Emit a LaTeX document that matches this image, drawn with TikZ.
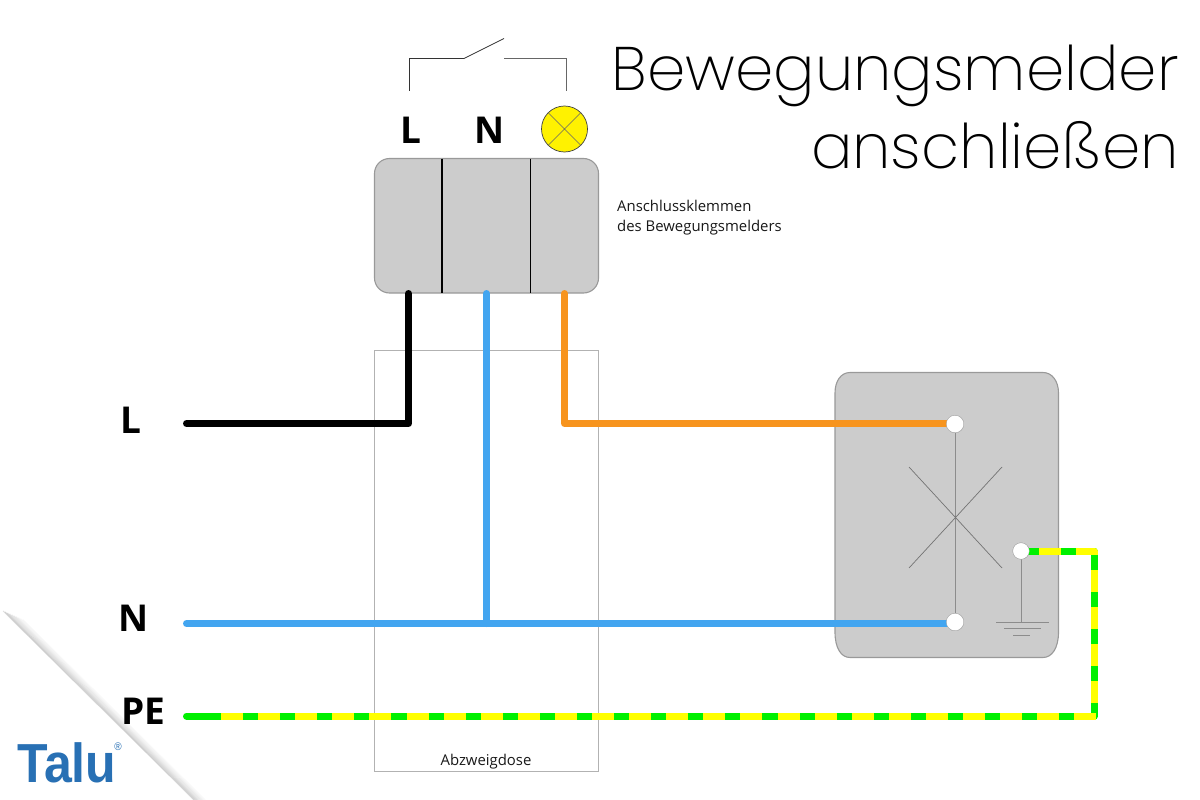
\documentclass[tikz,border=0pt]{standalone}
\usepackage{fontspec}
\setmainfont{Open Sans}
\newfontfamily\titlefont{Poppins ExtraLight}
\newfontfamily\logofont[FakeStretch=0.91]{Liberation Sans}
\definecolor{boxgray}{HTML}{CCCCCC}
\definecolor{boxedge}{HTML}{999999}
\definecolor{wireblue}{HTML}{42A5F0}
\definecolor{wireorange}{HTML}{F7941E}
\definecolor{pegreen}{HTML}{00F000}
\definecolor{peyellow}{HTML}{FFFF00}
\definecolor{talublue}{HTML}{2870B4}
\tikzset{
  wire/.style={line width=7pt,line cap=round,line join=round},
  pedash/.style={line width=7pt,line cap=butt,line join=round,peyellow,dash pattern=on 22pt off 15.1pt},
  thin line/.style={draw=#1,line width=0.8pt},
  thin line/.default=black!70,
  terminal/.style={circle,fill=white,draw=boxedge,line width=0.3pt,minimum size=17.5pt,inner sep=0pt},
  big/.style={font=\fontsize{37}{37}\selectfont\bfseries,inner sep=0pt,text=black},
  small/.style={font=\fontsize{14.9}{20}\selectfont,inner sep=0pt,align=left,text=black!90},
  casing/.style={fill=boxgray,draw=boxedge,line width=1.1pt},
}
\begin{document}
\begin{tikzpicture}[x=1pt,y=-1pt]
\useasboundingbox (0,0) rectangle (1200,800);
\fill[white] (0,0) rectangle (1200,800);
% Fold
\foreach \o/\a in {0/.12,1/.10,2/.09,3/.07,4/.06,5/.05,6/.04,7/.03,8/.02,9/.02}{
  \draw[black,opacity=\a,line width=1.4pt] ({\o*2.2+3},{608-\o*1.25+\o*2.2+3}) -- ({194+\o*1.25},800);
}
\fill[white] (0,609) -- (193,800) -- (0,800) -- cycle;
% Abzweigdose
\node[draw=black!30,line width=0.7pt,minimum width=224pt,minimum height=421pt,inner sep=0pt] (dose) at (486.5,561) {};
\node[small,anchor=south] (dosetext) at (486,769) {Abzweigdose};
% Terminal box
\draw[casing,rounded corners=15pt] (374.5,158.5) rectangle (598.5,293);
\draw[black,line width=1.1pt] (442,158.5) -- (442,293);
\draw[black,line width=1.1pt] (530.5,158.5) -- (530.5,293);
% Labels
\node[big] (topL) at (411,130) {L};
\node[big] (topN) at (490,130) {N};
\node[big] (leftL) at (131,420) {L};
\node[big] (leftN) at (134,618) {N};
\node[big] (leftPE) at (143,711) {PE};
% Switch symbol
\draw[thin line=black!80] (409.5,91) -- (409.5,58.5) -- (464,58.5) -- (504,38.5);
\draw[thin line=black!60] (504,58.5) -- (566,58.5) -- (566,91);
% Lamp
\node[circle,fill=yellow,draw=black!75,line width=0.7pt,minimum size=46pt,inner sep=0pt] (lamp) at (564.5,129) {};
\draw[black!60,line width=0.6pt] (lamp.45) -- (lamp.225) (lamp.135) -- (lamp.315);
% Consumer
\draw[casing] (835,393) .. controls (835,381) and (841,372.5) .. (850,372.5) -- (1043,372.5)
  .. controls (1052,372.5) and (1058.5,381) .. (1058.5,393) -- (1058.5,632)
  .. controls (1058.5,648) and (1052,657.5) .. (1043,657.5) -- (850,657.5)
  .. controls (841,657.5) and (835,648) .. (835,632) -- cycle;
\node[terminal] (t1) at (955,424) {};
\node[terminal] (t2) at (955,622) {};
\node[terminal,minimum size=16.5pt] (t3) at (1021,551) {};
\draw[black!45,line width=0.8pt] (t1) -- (t2);
\draw[black!55,line width=0.7pt] (909,568) -- (1002,467) (909,467) -- (1002,568);
\coordinate (gnd) at (1021,622);
\draw[black!45,line width=0.8pt] (t3) -- (gnd);
\draw[black!45,line width=0.7pt] (996,622) -- (1049,622) (1004,628.5) -- (1041,628.5) (1013,635.5) -- (1030,635.5);
% Wires
\coordinate (lstart) at (186.5,423.5);
\coordinate (nstart) at (186.5,623.5);
\coordinate (nend) at (950,623.5);
\coordinate (oend) at (950,423.5);
\coordinate (pestart) at (186.5,716);
\coordinate (lup) at (408.5,293.5);
\coordinate (nup) at (486.5,293.5);
\coordinate (oup) at (564.5,293.5);
\coordinate (nj) at (486.5,623.5);
\coordinate (pe1) at (1094,716);
\coordinate (pe1x) at (1097.5,716);
\coordinate (pe2) at (1094,551);
\coordinate (pe3) at (1021,551);
\coordinate (peh) at (221,716);
\coordinate (pev) at (1094,703);
\draw[wire,black] (lstart) -- (408.5,423.5) -- (lup);
\draw[wire,wireblue] (nstart) -- (nend);
\draw[wire,wireblue] (nj) -- (nup);
\draw[wire,wireorange] (oup) -- (564.5,423.5) -- (oend);
\draw[wire,pegreen] (pestart) -- (pe1) -- (pe2) -- (pe3);
\draw[pedash] (peh) -- (pe1x);
\draw[pedash] (pev) -- (pe2) -- (pe3);
\node[terminal] at (t1) {};
\node[terminal] at (t2) {};
\node[terminal,minimum size=16.5pt] at (t3) {};
% Texts
\node[small,anchor=north west] (kltext) at (617,200) {Anschlussklemmen\\des Bewegungsmelders};
\node[anchor=east,inner sep=0pt,font=\titlefont\fontsize{61.5}{78.5}\selectfont,align=right] (title) at (1179,107) {Bewegungsmelder\\anschließen};
% Logo
\node[inner sep=0pt,anchor=base west,text=talublue,font=\logofont\fontsize{55}{55}\selectfont\bfseries] (logo) at (17,782) {Talu\kern-2pt\raisebox{32pt}{\fontsize{11}{11}\selectfont\mdseries ®}};
\end{tikzpicture}
\end{document}
